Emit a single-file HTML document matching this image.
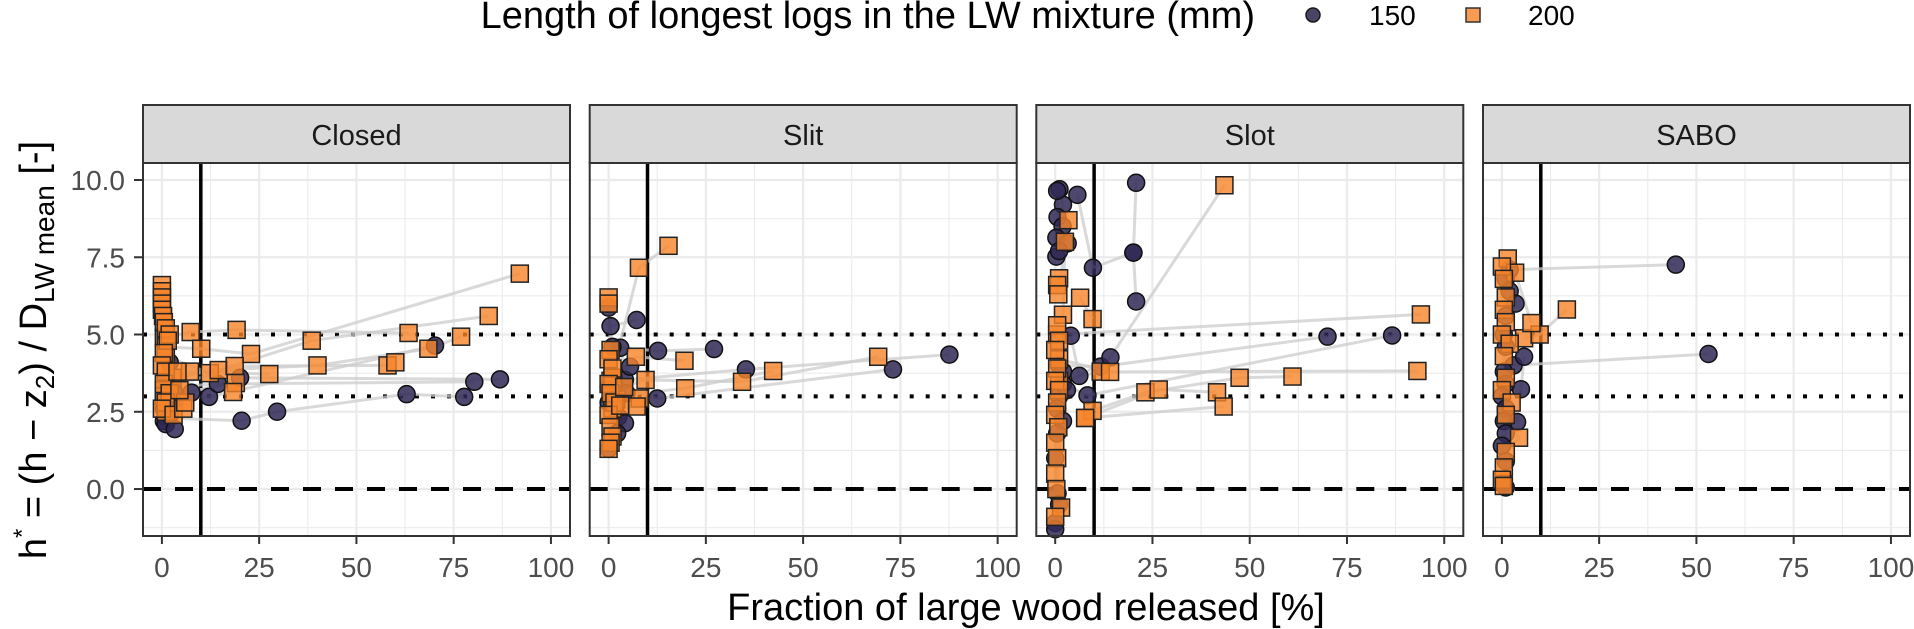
<!DOCTYPE html>
<html><head><meta charset="utf-8"><style>
html,body{margin:0;padding:0;background:#fff}
svg{display:block;font-family:"Liberation Sans",Arial,sans-serif}
</style></head><body>
<svg id="chart" width="1914" height="629" viewBox="0 0 1914 629" xmlns="http://www.w3.org/2000/svg">
<g id="legend">
<text x="1255" y="28" text-anchor="end" font-size="38" fill="#000">Length of longest logs in the LW mixture (mm)</text>
<g>
<circle cx="1313" cy="15" r="7" fill="#4a4466" stroke="#1a1a1a" stroke-width="1.5"/>
<text x="1369" y="25" font-size="28">150</text></g>
<g>
<rect x="1466" y="8" width="14" height="14" fill="#f99b52" stroke="#333" stroke-width="1.5"/>
<text x="1528" y="25" font-size="28">200</text></g>
</g>
<text transform="translate(46,350) rotate(-90)" text-anchor="middle" font-size="38" fill="#000">h<tspan font-size="24" dy="-16">*</tspan><tspan dy="16"> = (h − z</tspan><tspan font-size="26" dy="8">2</tspan><tspan dy="-8">) / D</tspan><tspan font-size="28" dy="8">LW mean</tspan><tspan dy="-8"> [-]</tspan></text>
<text x="1026" y="620" text-anchor="middle" font-size="38" fill="#000">Fraction of large wood released [%]</text>
<g id="panels"></g>
</svg>
<script>
const panelNames = ["Closed", "Slit", "Slot", "SABO"];
const xTicks = [0, 25, 50, 75, 100];
const xTickLabels = ["0", "25", "50", "75", "100"];
const yTicks = [0, 2.5, 5, 7.5, 10];
const yTickLabels = ["0.0", "2.5", "5.0", "7.5", "10.0"];
const xMinor = [12.5, 37.5, 62.5, 87.5];
const yMinor = [-1.25, 1.25, 3.75, 6.25, 8.75];
const refX = 10;
const refDotted = [3, 5];
const refDashed = 0;

const closed150 = [
 [[1,2.3],[20.5,2.21],[29.6,2.5],[62.9,3.07],[77.7,2.98]],
 [[2,3.0],[12.1,2.98],[70.2,4.64]],
 [[1,3.3],[14.4,3.4],[80.3,3.47]],
 [[3,2.8],[7.6,3.12],[20.1,3.6],[86.9,3.55]],
 [[0.5,2.2],[1,2.1],[3.3,1.94]],
 [[2,2.4],[1.5,2.7],[0.5,3.0],[1,3.5],[2,4.1],[0.5,2.6],[3,3.2]]
];
const closed200 = [
 [[0.5,4.9],[7.4,5.08],[19.2,5.15],[63.4,5.05]],
 [[1,4.6],[10.1,4.54],[22.9,4.37],[92,6.97]],
 [[1,4.3],[12.3,3.75],[38.5,4.8],[84,5.6]],
 [[2.7,3.6],[14.6,3.85],[40,4.0],[68.5,4.54],[76.9,4.93]],
 [[0.5,3.2],[18.7,3.98],[58,4.0],[60,4.1]],
 [[1,2.5],[7.2,3.8],[27.6,3.72]],
 [[0.5,3.0],[19,3.43],[18.3,3.14]],
 [[0,6.6],[0,6.4],[0,6.2],[0,6.0],[0,5.8],[0.3,5.6],[0.5,5.4],[1,5.2],[2,5.0],[1.5,4.8]],
 [[0.5,4.4],[0,4.0],[1,3.8],[0.5,3.4],[2,3.1],[1,2.8],[0,2.6],[3,2.4]],
 [[4,3.8],[5.5,2.6],[6,2.8],[4.5,3.2]]
];
const slit150 = [
 [[3,4.57],[12.7,4.47],[27.1,4.53]],
 [[1.5,3.4],[12.5,2.93],[73.1,3.87]],
 [[4.2,3.53],[35.3,3.87],[87.6,4.35]],
 [[0.5,5.27],[7.2,5.47]],
 [[0,5.87],[1,4.6],[5.5,3.96],[1.2,3.64],[4.6,3.1],[0,3.3],[2.5,2.34],[4.2,2.13],[2.2,1.8],[0,1.3],[0,2.8]]
];
const slit200 = [
 [[0.5,3.5],[7.8,7.16],[15.4,7.87]],
 [[1,3.2],[9.5,3.53],[34.3,3.47],[69.3,4.28]],
 [[1,3.6],[7,4.28],[19.5,4.15]],
 [[1,3.0],[19.7,3.26],[42.3,3.82]],
 [[2,2.9],[8,2.93]],
 [[1,2.6],[7.2,2.67]],
 [[0,6.2],[0,6.0],[0.5,4.5],[0,4.2],[1,3.9],[0,3.4],[0.5,3.1],[1.5,2.8],[0,2.4],[0.5,2.0],[1,1.7],[0.5,1.5],[0,1.3]],
 [[3,2.7],[4,3.3]]
];
const slot150 = [
 [[20.8,9.91],[20.1,7.65],[20.8,6.07]],
 [[5.7,9.52],[9.7,7.16],[20.1,7.65]],
 [[1,4.0],[11.7,3.96],[70,4.93]],
 [[2,3.4],[8.3,3.03],[86.6,4.97]],
 [[1.1,9.7],[2,9.2],[0.6,8.8],[1.9,8.5],[0.3,8.13],[3.2,7.95],[0.3,7.52],[1,7.7],[0.5,9.65]],
 [[4,4.96],[6.2,3.66],[14.2,4.26]],
 [[1,3.0],[0.5,2.6],[2,2.2],[0.5,1.8],[0,1.0],[0.6,-0.14],[1,-0.5],[0,-1.1],[0,-1.3],[2,3.8],[3,3.2]]
];
const slot200 = [
 [[1,3.5],[11.7,3.8],[43.5,9.83]],
 [[0.5,5.0],[94,5.65]],
 [[1,4.2],[14.1,3.79],[93.1,3.82]],
 [[9.6,2.53],[23.2,3.13],[47.4,3.6],[61,3.64]],
 [[7.7,2.3],[26.6,3.22],[41.6,3.13]],
 [[7.7,2.3],[43.3,2.67]],
 [[6.4,6.19],[9.6,5.5]],
 [[1,6.82],[0.5,6.6],[0.8,6.3],[3.4,8.7],[2.5,8.0],[2,5.64],[0.5,5.3],[1,4.8],[0,4.5],[0.5,3.9],[0,3.5],[1,3.2],[0.5,2.8],[0,2.4],[0.8,2.0],[0,1.5],[0.5,1.0],[0,0.5],[0.3,0.0],[1.5,-0.6],[0,-0.9]]
];
const sabo150 = [
 [[2,7.1],[44.7,7.26]],
 [[3,4.0],[53.1,4.37]],
 [[5.7,4.28],[4.9,3.23],[3.9,2.17]],
 [[1,6.8],[2,6.4],[3.5,6.0],[1,5.6],[0.5,5.0],[1,4.6],[0.5,3.8],[1,3.4],[0,3.0],[1,2.6],[0.5,2.2],[1,1.8],[0,1.4],[1,0.9],[0.5,0.2],[1,0.05]]
];
const sabo200 = [
 [[5.7,4.88],[9.7,5.0],[16.7,5.81]],
 [[1.5,7.46],[3.4,7.0],[7.6,5.37]],
 [[0,7.2],[0.5,6.8],[1,6.2],[0.5,5.8],[1,5.4],[0,5.0],[2,4.7],[0.5,4.3],[1,3.6],[0,3.2],[2.5,2.8],[1,2.4],[4.4,1.66],[1,1.2],[0.5,0.7],[0,0.3],[0.5,0.1]]
];
const series150 = [closed150, slit150, slot150, sabo150];
const series200 = [closed200, slit200, slot200, sabo200];

const NS = "http://www.w3.org/2000/svg";
const P_LEFT = [143, 589.7, 1036.3, 1483];
const P_W = 427, P_TOP = 163, P_BOT = 536, STRIP_TOP = 105;
const X0 = -4.86, X1 = 104.9, Y0 = -1.52, Y1 = 10.55;
function mk(tag, attrs, parent) {
  const e = document.createElementNS(NS, tag);
  for (const k in attrs) e.setAttribute(k, attrs[k]);
  parent.appendChild(e);
  return e;
}
const root = document.getElementById('panels');
panelNames.forEach((name, i) => {
  const L = P_LEFT[i];
  const xs = v => L + (v - X0) / (X1 - X0) * P_W;
  const ys = v => P_BOT - (v - Y0) / (Y1 - Y0) * (P_BOT - P_TOP);
  const g = mk('g', {}, root);
  
  
  const strip = mk('rect', {x: L, y: STRIP_TOP, width: P_W, height: P_TOP - STRIP_TOP, fill: '#d9d9d9', stroke: '#333', 'stroke-width': 2}, g);
  
  
  const st = mk('text', {x: L + P_W / 2, y: 145, 'text-anchor': 'middle', 'font-size': 29, fill: '#1a1a1a'}, g);
  st.textContent = name;
  
  
  const grid = mk('g', {}, g);
  
  
  xMinor.forEach(v => mk('line', {x1: xs(v), x2: xs(v), y1: P_TOP, y2: P_BOT, stroke: '#ebebeb', 'stroke-width': 1.1}, grid));
  yMinor.forEach(v => mk('line', {x1: L, x2: L + P_W, y1: ys(v), y2: ys(v), stroke: '#ebebeb', 'stroke-width': 1.1}, grid));
  xTicks.forEach(v => mk('line', {x1: xs(v), x2: xs(v), y1: P_TOP, y2: P_BOT, stroke: '#ebebeb', 'stroke-width': 2.2}, grid));
  yTicks.forEach(v => mk('line', {x1: L, x2: L + P_W, y1: ys(v), y2: ys(v), stroke: '#ebebeb', 'stroke-width': 2.2}, grid));
  const vl = mk('line', {x1: xs(refX), x2: xs(refX), y1: P_TOP, y2: P_BOT, stroke: '#000', 'stroke-width': 3.5}, g);
  
  
  refDotted.forEach(v => {
    const d = mk('line', {x1: L, x2: L + P_W, y1: ys(v), y2: ys(v), stroke: '#000', 'stroke-width': 4, 'stroke-dasharray': '4 12'}, g);
    
    
  });
  const dz = mk('line', {x1: L, x2: L + P_W, y1: ys(refDashed), y2: ys(refDashed), stroke: '#000', 'stroke-width': 4, 'stroke-dasharray': '18 14'}, g);
  
  
  const lg = mk('g', {}, g);
  
  
  [series150[i], series200[i]].forEach(runs => runs.forEach(run => {
    if (run.length < 2) return;
    const pl = mk('polyline', {points: run.map(p => xs(p[0]) + ',' + ys(p[1])).join(' '), fill: 'none', stroke: '#cccccc', 'stroke-opacity': 0.75, 'stroke-width': 3}, lg);
    
    
  }));
  const pg = mk('g', {}, g);
  
  
  series150[i].forEach(run => run.forEach(p => {
    const c = mk('circle', {cx: xs(p[0]), cy: ys(p[1]), r: 8.5, fill: '#2f2856', 'fill-opacity': 0.85, stroke: '#111', 'stroke-width': 1.5}, pg);
    
    
  }));
  series200[i].forEach(run => run.forEach(p => {
    const r = mk('rect', {x: xs(p[0]) - 8.5, y: ys(p[1]) - 8.5, width: 17, height: 17, fill: '#f7852a', 'fill-opacity': 0.8, stroke: '#222', 'stroke-width': 1.5}, pg);
    
    
  }));
  const b = mk('rect', {x: L, y: P_TOP, width: P_W, height: P_BOT - P_TOP, fill: 'none', stroke: '#333', 'stroke-width': 2}, g);
  
  
  const xa = mk('g', {}, g);
  
  
  xTicks.forEach((v, k) => {
    mk('line', {x1: xs(v), x2: xs(v), y1: P_BOT, y2: P_BOT + 8, stroke: '#333', 'stroke-width': 2}, xa);
    const t = mk('text', {x: xs(v), y: 577, 'text-anchor': 'middle', 'font-size': 28, fill: '#4d4d4d'}, xa);
    t.textContent = xTickLabels[k];
    
    
  });
  if (i === 0) {
    const ya = mk('g', {}, g);
    
    
    yTicks.forEach((v, k) => {
      mk('line', {x1: L - 9, x2: L, y1: ys(v), y2: ys(v), stroke: '#333', 'stroke-width': 2}, ya);
      const t = mk('text', {x: L - 18, y: ys(v) + 10, 'text-anchor': 'end', 'font-size': 28, fill: '#4d4d4d'}, ya);
      t.textContent = yTickLabels[k];
      
      
    });
  }
});
</script>
</body></html>
